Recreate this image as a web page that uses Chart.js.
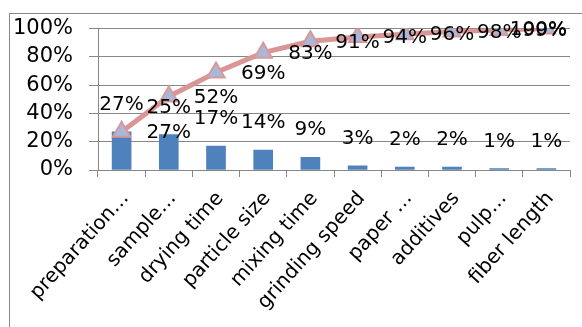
<!DOCTYPE html>
<html>
<head>
<meta charset="utf-8">
<script src="https://cdn.jsdelivr.net/npm/chart.js@4/dist/chart.umd.min.js"></script>
<style>
  html, body { margin: 0; padding: 0; background: #ffffff; }
  #wrap { width: 582px; height: 327px; position: relative; }
</style>
</head>
<body>
<div id="wrap"><canvas id="c" width="582" height="327"></canvas></div>
<script>
// Pareto of factors: share of each factor and running total (percent)
const categories = ['preparation…', 'sample…', 'drying time', 'particle size', 'mixing time',
                    'grinding speed', 'paper …', 'additives', 'pulp…', 'fiber length'];
const shares = [27, 25, 17, 14, 9, 3, 2, 2, 1, 1];
const cumulative = [27, 52, 69, 83, 91, 94, 96, 98, 99, 100];
const yTickLabels = ['0%', '20%', '40%', '60%', '80%', '100%'];

const FONT = '"DejaVu Sans", sans-serif';
const GRID = '#878787';

// Outer frame of the chart area
const framePlugin = {
  id: 'frame',
  beforeDraw(chart) {
    const ctx = chart.ctx;
    ctx.save();
    ctx.strokeStyle = GRID;
    ctx.lineWidth = 1;
    ctx.strokeRect(9.5, 13.5, 700, 500);
    ctx.restore();
  }
};

// Percent labels: above bars, and beside each point of the running total
const valueLabels = {
  id: 'valueLabels',
  afterDatasetsDraw(chart) {
    const ctx = chart.ctx;
    const area = chart.chartArea;
    const xs = chart.scales.x;
    const step = xs.getPixelForValue(1) - xs.getPixelForValue(0);
    ctx.save();
    ctx.font = '20px ' + FONT;
    ctx.fillStyle = '#000000';
    ctx.textAlign = 'center';
    ctx.textBaseline = 'middle';
    chart.data.datasets.forEach((ds, di) => {
      const meta = chart.getDatasetMeta(di);
      meta.data.forEach((el, i) => {
        const txt = ds.data[i] + '%';
        if (ds.type === 'bar') {
          ctx.fillText(txt, el.x, el.y - 27);
        } else {
          const w = ctx.measureText(txt).width;
          let x = el.x + step;
          x = Math.min(x, area.right - 3 - w / 2);
          ctx.fillText(txt, x, el.y + 1);
        }
      });
    });
    ctx.restore();
  }
};

new Chart(document.getElementById('c'), {
  data: {
    labels: categories,
    datasets: [
      {
        type: 'line',
        data: cumulative,
        order: 0,
        borderColor: '#d99694',
        borderWidth: 5,
        tension: 0,
        pointStyle: 'triangle',
        pointRadius: 10,
        pointBorderWidth: 2,
        pointBackgroundColor: '#a9b8d9',
        pointBorderColor: '#d9989a'
      },
      {
        type: 'bar',
        data: shares,
        order: 1,
        backgroundColor: '#4f81bd',
        barThickness: 19
      }
    ]
  },
  options: {
    responsive: false,
    animation: false,
    layout: { padding: { left: 0, top: 28, right: 1, bottom: 0 } },
    plugins: { legend: { display: false }, tooltip: { enabled: false } },
    scales: {
      x: {
        offset: true,
        afterFit(s) { s.height = 157; },
        border: { color: GRID, width: 1 },
        grid: { offset: true, drawOnChartArea: false, drawTicks: true, tickLength: 7, color: GRID },
        ticks: {
          autoSkip: false, minRotation: 48, maxRotation: 48, padding: 10, labelOffset: 4,
          color: '#000000', font: { family: FONT, size: 20 }
        }
      },
      y: {
        min: 0, max: 100,
        afterFit(s) { s.width = 98; },
        border: { color: GRID, width: 1 },
        grid: { color: GRID, tickLength: 9, lineWidth: 1 },
        ticks: {
          stepSize: 20, padding: 16, color: '#000000',
          font: { family: FONT, size: 21 },
          callback: (v) => yTickLabels[Math.round(v / 20)]
        }
      }
    }
  },
  plugins: [framePlugin, valueLabels]
});
</script>
</body>
</html>
